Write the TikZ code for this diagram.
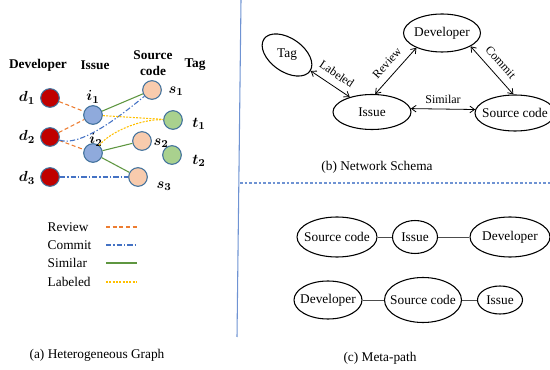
\documentclass[tikz,border=0pt]{standalone}
\usepackage{fontspec}
\setmainfont{Liberation Serif}
\usepackage{bm}
\usetikzlibrary{shapes.geometric,arrows.meta}
\definecolor{devred}{HTML}{C00000}
\definecolor{issblue}{HTML}{8FAADC}
\definecolor{srcpeach}{HTML}{F8CBAD}
\definecolor{taggreen}{HTML}{A9D18E}
\definecolor{ringblue}{HTML}{41719C}
\definecolor{reviewc}{HTML}{ED7D31}
\definecolor{commitc}{HTML}{4472C4}
\definecolor{similarc}{HTML}{5E9640}
\definecolor{labeledc}{HTML}{FFC000}
\definecolor{divblue}{HTML}{6F93D3}
\newcommand{\inoval}[1]{\makebox[0pt]{#1}}

\begin{document}
\begin{tikzpicture}[x=0.75pt,y=-0.75pt,
	every node/.style={font=\fontsize{10}{12}\selectfont},
	vertex/.style={circle,draw=ringblue,line width=0.8pt,minimum size=14pt,inner sep=0pt},
	oval/.style={ellipse,draw,line width=0.8pt,inner sep=0pt},
	review/.style={draw=reviewc,line width=0.8pt,dash pattern=on 3pt off 2pt},
	commit/.style={draw=commitc,line width=0.8pt,dash pattern=on 4pt off 1.5pt on 1pt off 1.5pt},
	similar/.style={draw=similarc,line width=0.8pt},
	labeled/.style={draw=labeledc,line width=0.8pt,dash pattern=on 1.5pt off 1pt},
	rel/.style={<->,>={Straight Barb[length=3.5pt,width=5pt]},line width=0.6pt},
	link/.style={draw=black!70,line width=0.5pt},
	lbl/.style={font=\fontsize{11}{13}\selectfont},
	elbl/.style={font=\fontsize{9}{11}\selectfont,inner sep=2.5pt}]
	\useasboundingbox (0,0) rectangle (550,370);

	% (a) heterogeneous graph
	\node[font=\bfseries\fontsize{10}{12}\selectfont] (hdev) at (38,65) {Developer};
	\node[font=\bfseries\fontsize{10}{12}\selectfont] (hiss) at (95,65) {Issue};
	\node[font=\bfseries\fontsize{10}{12}\selectfont,align=center] (hsrc) at (153,63) {Source\\code};
	\node[font=\bfseries\fontsize{10}{12}\selectfont] (htag) at (195,65) {Tag};

	\node[vertex,fill=devred] (d1) at (50,98) {};
	\node[vertex,fill=devred] (d2) at (50,137) {};
	\node[vertex,fill=devred] (d3) at (50,177) {};
	\node[vertex,fill=issblue] (i1) at (93,115) {};
	\node[vertex,fill=issblue] (i2) at (93,153) {};
	\node[vertex,fill=srcpeach] (s1) at (152,90) {};
	\node[vertex,fill=srcpeach] (s2) at (142,141) {};
	\node[vertex,fill=srcpeach] (s3) at (138,177) {};
	\node[vertex,fill=taggreen] (t1) at (173,120) {};
	\node[vertex,fill=taggreen] (t2) at (172,155) {};

	\node[lbl] (d1lab) at (27,98) {$\bm{d_1}$};
	\node[lbl] (d2lab) at (27,137) {$\bm{d_2}$};
	\node[lbl] (d3lab) at (27,178) {$\bm{d_3}$};
	\node[lbl] (i1lab) at (93,97) {$\bm{i_1}$};
	\node[lbl] (i2lab) at (96,140) {$\bm{i_2}$};
	\node[lbl] (s1lab) at (176,91) {$\bm{s_1}$};
	\node[lbl] (s2lab) at (161,143) {$\bm{s_2}$};
	\node[lbl] (s3lab) at (164,186) {$\bm{s_3}$};
	\node[lbl] (t1lab) at (199,124) {$\bm{t_1}$};
	\node[lbl] (t2lab) at (199,161) {$\bm{t_2}$};

	\draw[review] (d1) -- (i1);
	\draw[review] (d2) -- (i1);
	\draw[review] (d2) -- (i2);
	\draw[commit] (d2) .. controls (80,147) and (118,118) .. (s1);
	\draw[commit] (d3) -- (s3);
	\draw[similar] (i1) -- (s1);
	\draw[similar] (i2) -- (s2);
	\draw[similar] (i2) -- (s3);
	\draw[labeled] (i1) -- (t1);
	\draw[labeled] (i2) .. controls (110,132) and (140,119) .. (t1);

	% legend
	\foreach \name/\sty/\yy in {Review/review/227,Commit/commit/245,Similar/similar/263,Labeled/labeled/282} {
		\node[anchor=west] (leg\name) at (43,\yy) {\name};
		\coordinate (a\name) at (106,\yy);
		\coordinate (b\name) at (137,\yy);
		\draw[\sty] (a\name) -- (b\name);
	}
	\node (capa) at (97,355) {(a) Heterogeneous Graph};

	% dividers
	\coordinate (vtop) at (241,0);
	\coordinate (vbot) at (237,337);
	\draw[divblue,line width=0.8pt] (vtop) -- (vbot);
	\coordinate (hleft) at (240,183);
	\coordinate (hright) at (550,183);
	\draw[divblue,line width=0.8pt,dash pattern=on 2pt off 1.5pt] (hleft) -- (hright);

	% (b) network schema
	\node[oval,minimum width=57.75pt,minimum height=28.5pt] (sdev) at (442,33) {\inoval{Developer}};
	\node[oval,minimum width=58.5pt,minimum height=26.25pt] (siss) at (372,112) {\inoval{Issue}};
	\node[oval,minimum width=60pt,minimum height=27pt] (ssrc) at (515,113) {\inoval{Source code}};
	\node[oval,rotate=-35,minimum width=42pt,minimum height=25pt] (stag) at (287,55) {\inoval{\rotatebox{35}{Tag}}};

	\draw[rel] (stag) -- node[elbl,sloped,above=3pt] {Labeled} (siss);
	\draw[rel] (siss.80) -- node[elbl,sloped,above=3pt] {Review} (sdev.210);
	\draw[rel] (sdev.335) -- node[elbl,sloped,above=3pt] {Commit} (ssrc.95);
	\draw[rel] (siss.5) -- node[elbl,above=1pt] {Similar} (ssrc.175);
	\node (capb) at (377,167) {(b) Network Schema};

	% (c) meta-path
	\node[oval,minimum width=60pt,minimum height=30pt] (m1src) at (337,237) {\inoval{Source code}};
	\node[oval,minimum width=33.75pt,minimum height=24.75pt] (m1iss) at (415,237) {\inoval{Issue}};
	\node[oval,minimum width=60pt,minimum height=30pt] (m1dev) at (510,237) {\inoval{Developer}};
	\draw[link] (m1src) -- (m1iss);
	\draw[link] (m1iss) -- (m1dev);

	\node[oval,minimum width=51pt,minimum height=28.5pt] (m2dev) at (328,300) {\inoval{Developer}};
	\node[oval,minimum width=57.75pt,minimum height=33.75pt] (m2src) at (423,300) {\inoval{Source code}};
	\node[oval,minimum width=33.75pt,minimum height=21pt] (m2iss) at (500,300) {\inoval{Issue}};
	\draw[link] (m2dev) -- (m2src);
	\draw[link] (m2src) -- (m2iss);
	\node (capc) at (380,358) {(c) Meta-path};
\end{tikzpicture}
\end{document}
